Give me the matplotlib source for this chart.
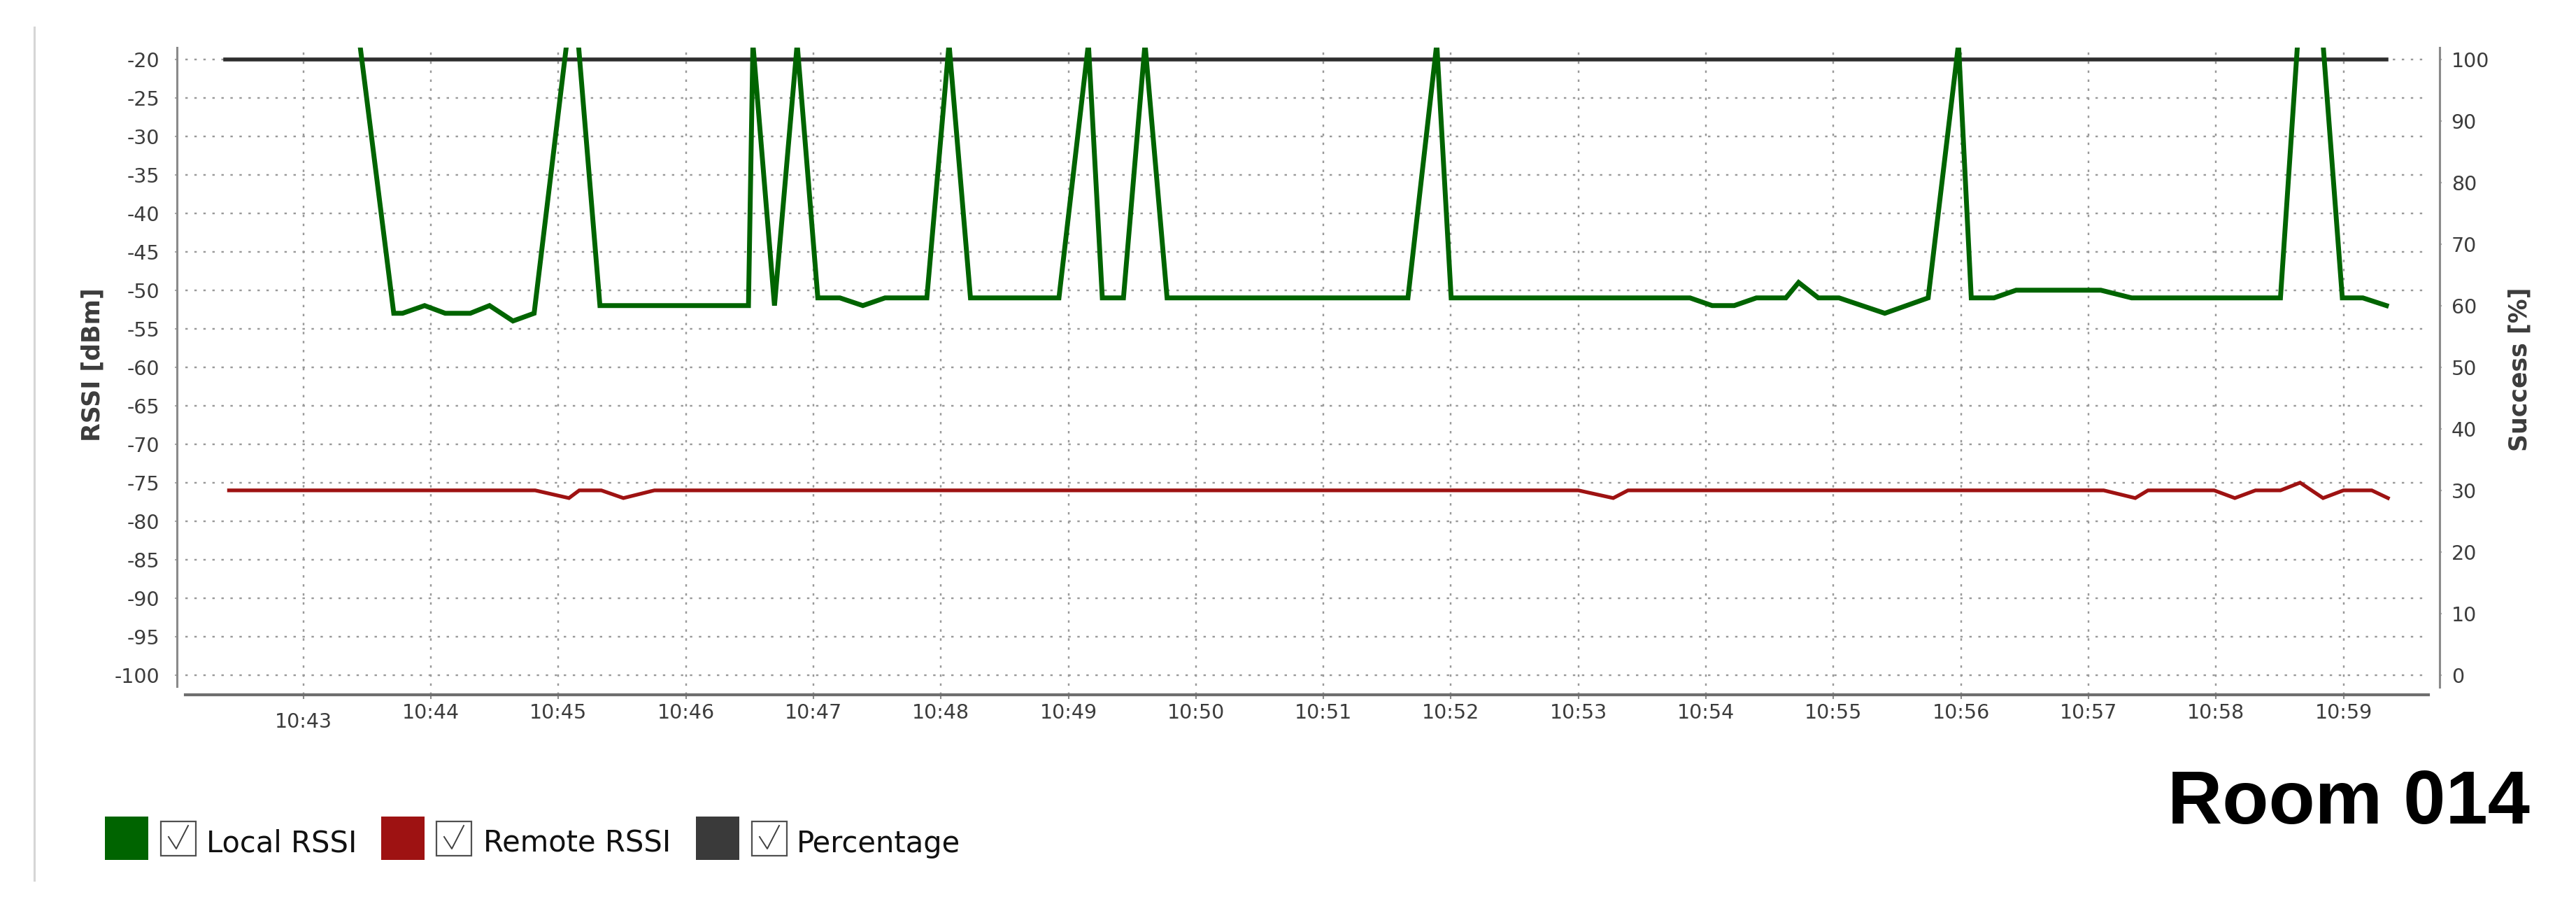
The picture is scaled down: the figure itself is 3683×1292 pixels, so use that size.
import matplotlib
matplotlib.use("Agg")
import matplotlib.pyplot as plt
from matplotlib import font_manager
from matplotlib.patches import Rectangle
from matplotlib.lines import Line2D
from matplotlib.transforms import ScaledTranslation

# ---------------- data (minutes after 10:00) ----------------
local_t = [42.42, 43.443, 43.709, 43.778, 43.951, 44.113, 44.309, 44.46, 44.644, 44.81,
           45.065, 45.157, 45.326, 46.491, 46.526, 46.695, 46.873, 47.035, 47.208, 47.388,
           47.562, 47.89, 48.064, 48.232, 48.926, 49.157, 49.266, 49.432, 49.601, 49.774,
           51.663, 51.889, 52.002, 53.875, 54.049, 54.222, 54.396, 54.627, 54.727, 54.882,
           55.044, 55.403, 55.743, 55.981, 56.081, 56.259, 56.433, 57.097, 57.339, 58.506,
           58.64, 58.84, 58.991, 59.152, 59.337]
local_rssi = [-18, -18, -53, -53, -52, -53, -53, -52, -54, -53,
              -18, -18, -52, -52, -18, -52, -18, -51, -51, -52,
              -51, -51, -18, -51, -51, -18, -51, -51, -18, -51,
              -51, -18, -51, -51, -52, -52, -51, -51, -49, -51,
              -51, -53, -51, -18, -51, -51, -50, -50, -51, -51,
              -18, -18, -51, -51, -52]

remote_t = [42.417, 44.818, 45.083, 45.164, 45.337, 45.51, 45.753, 53.0, 53.273, 53.389,
            57.12, 57.367, 57.467, 57.986, 58.148, 58.31, 58.506, 58.66, 58.84, 59.0,
            59.222, 59.349]
remote_rssi = [-76, -76, -77, -76, -76, -77, -76, -76, -77, -76,
               -76, -77, -76, -76, -77, -76, -76, -75, -77, -76,
               -76, -77]

pct_t = [42.39, 59.337]
pct_vals = [100, 100]

minute_ticks = list(range(43, 60))
minute_labels = ["10:%02d" % m for m in minute_ticks]
rssi_ticks = list(range(-100, -15, 5))
pct_ticks = list(range(0, 101, 10))
legend_names = ["Local RSSI", "Remote RSSI", "Percentage"]

# ---------------- styling ----------------
W, H, DPI = 3683, 1292, 100
C_LOCAL = "#006400"
C_REMOTE = "#9e1212"
C_PCT = "#2e2e2e"
C_GRID = "#999999"
C_TXT = "#3c3c3c"

avail = {f.name for f in font_manager.fontManager.ttflist}
if "Liberation Sans Narrow" in avail:
    leg_font, leg_size = "Liberation Sans Narrow", 38
else:
    leg_font, leg_size = "DejaVu Sans", 30


def fx(x):
    return x / W


def fy(y):
    return 1 - y / H


fig = plt.figure(figsize=(W / DPI, H / DPI), dpi=DPI)
fig.patch.set_facecolor("white")

ax = fig.add_axes([fx(265), fy(993), fx(3472) - fx(265), fy(68) - fy(993)])
ax2 = ax.twinx()

ax.set_xlim(42.0746, 59.6664)
ax.set_ylim(-102.55, -18.49)
ax2.set_ylim((-102.55 + 100) * 1.25, (-18.49 + 100) * 1.25)

ax.set_zorder(ax2.get_zorder() + 1)
ax.patch.set_visible(False)

# percentage drawn with the right-hand (success) scale, but inside the main axes so it sits above the grid
ax.plot(pct_t, pct_vals, color=C_PCT, lw=4.0, zorder=2, transform=ax2.transData)
ax.plot(remote_t, remote_rssi, color=C_REMOTE, lw=3.8, solid_joinstyle="miter", zorder=3)
ax.plot(local_t, local_rssi, color=C_LOCAL, lw=5.0, solid_joinstyle="miter", zorder=4)

ax.set_xticks(minute_ticks)
ax.set_xticklabels(minute_labels)
ax.set_yticks(rssi_ticks)
ax.set_yticklabels([str(v) for v in rssi_ticks])
ax2.set_yticks(pct_ticks)
ax2.set_yticklabels([str(v) for v in pct_ticks])

ax.grid(True, color=C_GRID, lw=1.75, linestyle=(0, (1.4, 3.9)))

for s in ["top", "right"]:
    ax.spines[s].set_visible(False)
for s in ["top", "left", "bottom"]:
    ax2.spines[s].set_visible(False)

ax.spines["left"].set_position(("outward", 8.6))
ax.spines["left"].set_bounds(-101.5, -18.49)
ax.spines["left"].set_color("#8a8a8a")
ax.spines["left"].set_linewidth(2.2)
ax.spines["bottom"].set_color("#6e6e6e")
ax.spines["bottom"].set_linewidth(3.0)
ax2.spines["right"].set_position(("outward", 11.5))
ax2.spines["right"].set_bounds(-1.9, 101.89)
ax2.spines["right"].set_color("#8a8a8a")
ax2.spines["right"].set_linewidth(2.2)

ax.tick_params(axis="x", length=4.3, width=1.5, color="#8a8a8a", pad=4.5,
               labelsize=20.5, labelcolor=C_TXT)
ax.tick_params(axis="y", length=2.2, width=1.5, color="#aaaaaa", pad=15.8,
               labelsize=20.5, labelcolor=C_TXT)
ax2.tick_params(axis="y", length=2.2, width=1.5, color="#aaaaaa", pad=9.8,
                labelsize=20.5, labelcolor=C_TXT)

# staggered first time label
first = ax.xaxis.get_major_ticks()[0].label1
first.set_transform(first.get_transform() + ScaledTranslation(0, -13 / DPI, fig.dpi_scale_trans))

fig.text(fx(133), fy(521), "RSSI [dBm]", rotation=90, ha="center", va="center",
         fontsize=25, fontweight="bold", color=C_TXT)
fig.text(fx(3603), fy(528), "Success [%]", rotation=90, ha="center", va="center",
         fontsize=25, fontweight="bold", color=C_TXT)

# left frame line
fig.add_artist(Line2D([fx(49), fx(49)], [fy(39), fy(1258)], transform=fig.transFigure,
                      color="#d6d6d6", lw=2.2))

# legend
leg_items = [
    (C_LOCAL, 150, 230, 295),
    (C_REMOTE, 545, 624, 691),
    ("#3a3a3a", 995, 1075, 1139),
]
for (col, sx, cx, tx), name in zip(leg_items, legend_names):
    fig.add_artist(Rectangle((fx(sx), fy(1229)), fx(62), 62 / H, transform=fig.transFigure,
                             facecolor=col, edgecolor="none"))
    fig.add_artist(Rectangle((fx(cx), fy(1223)), fx(50), 49 / H, transform=fig.transFigure,
                             facecolor="white", edgecolor="#505050", lw=1.6))
    fig.add_artist(Line2D([fx(cx + 11), fx(cx + 22), fx(cx + 39)],
                          [fy(1196), fy(1213), fy(1180)], transform=fig.transFigure,
                          color="#404040", lw=1.4))
    fig.text(fx(tx), fy(1218), name, ha="left", va="baseline", fontsize=leg_size,
             family=leg_font, color="#111111")

fig.text(fx(3617), fy(1177), "Room 014", ha="right", va="baseline", fontsize=78,
         fontweight="bold", family="Liberation Sans", color="black")

fig.savefig("out.png", dpi=DPI, facecolor="white")
